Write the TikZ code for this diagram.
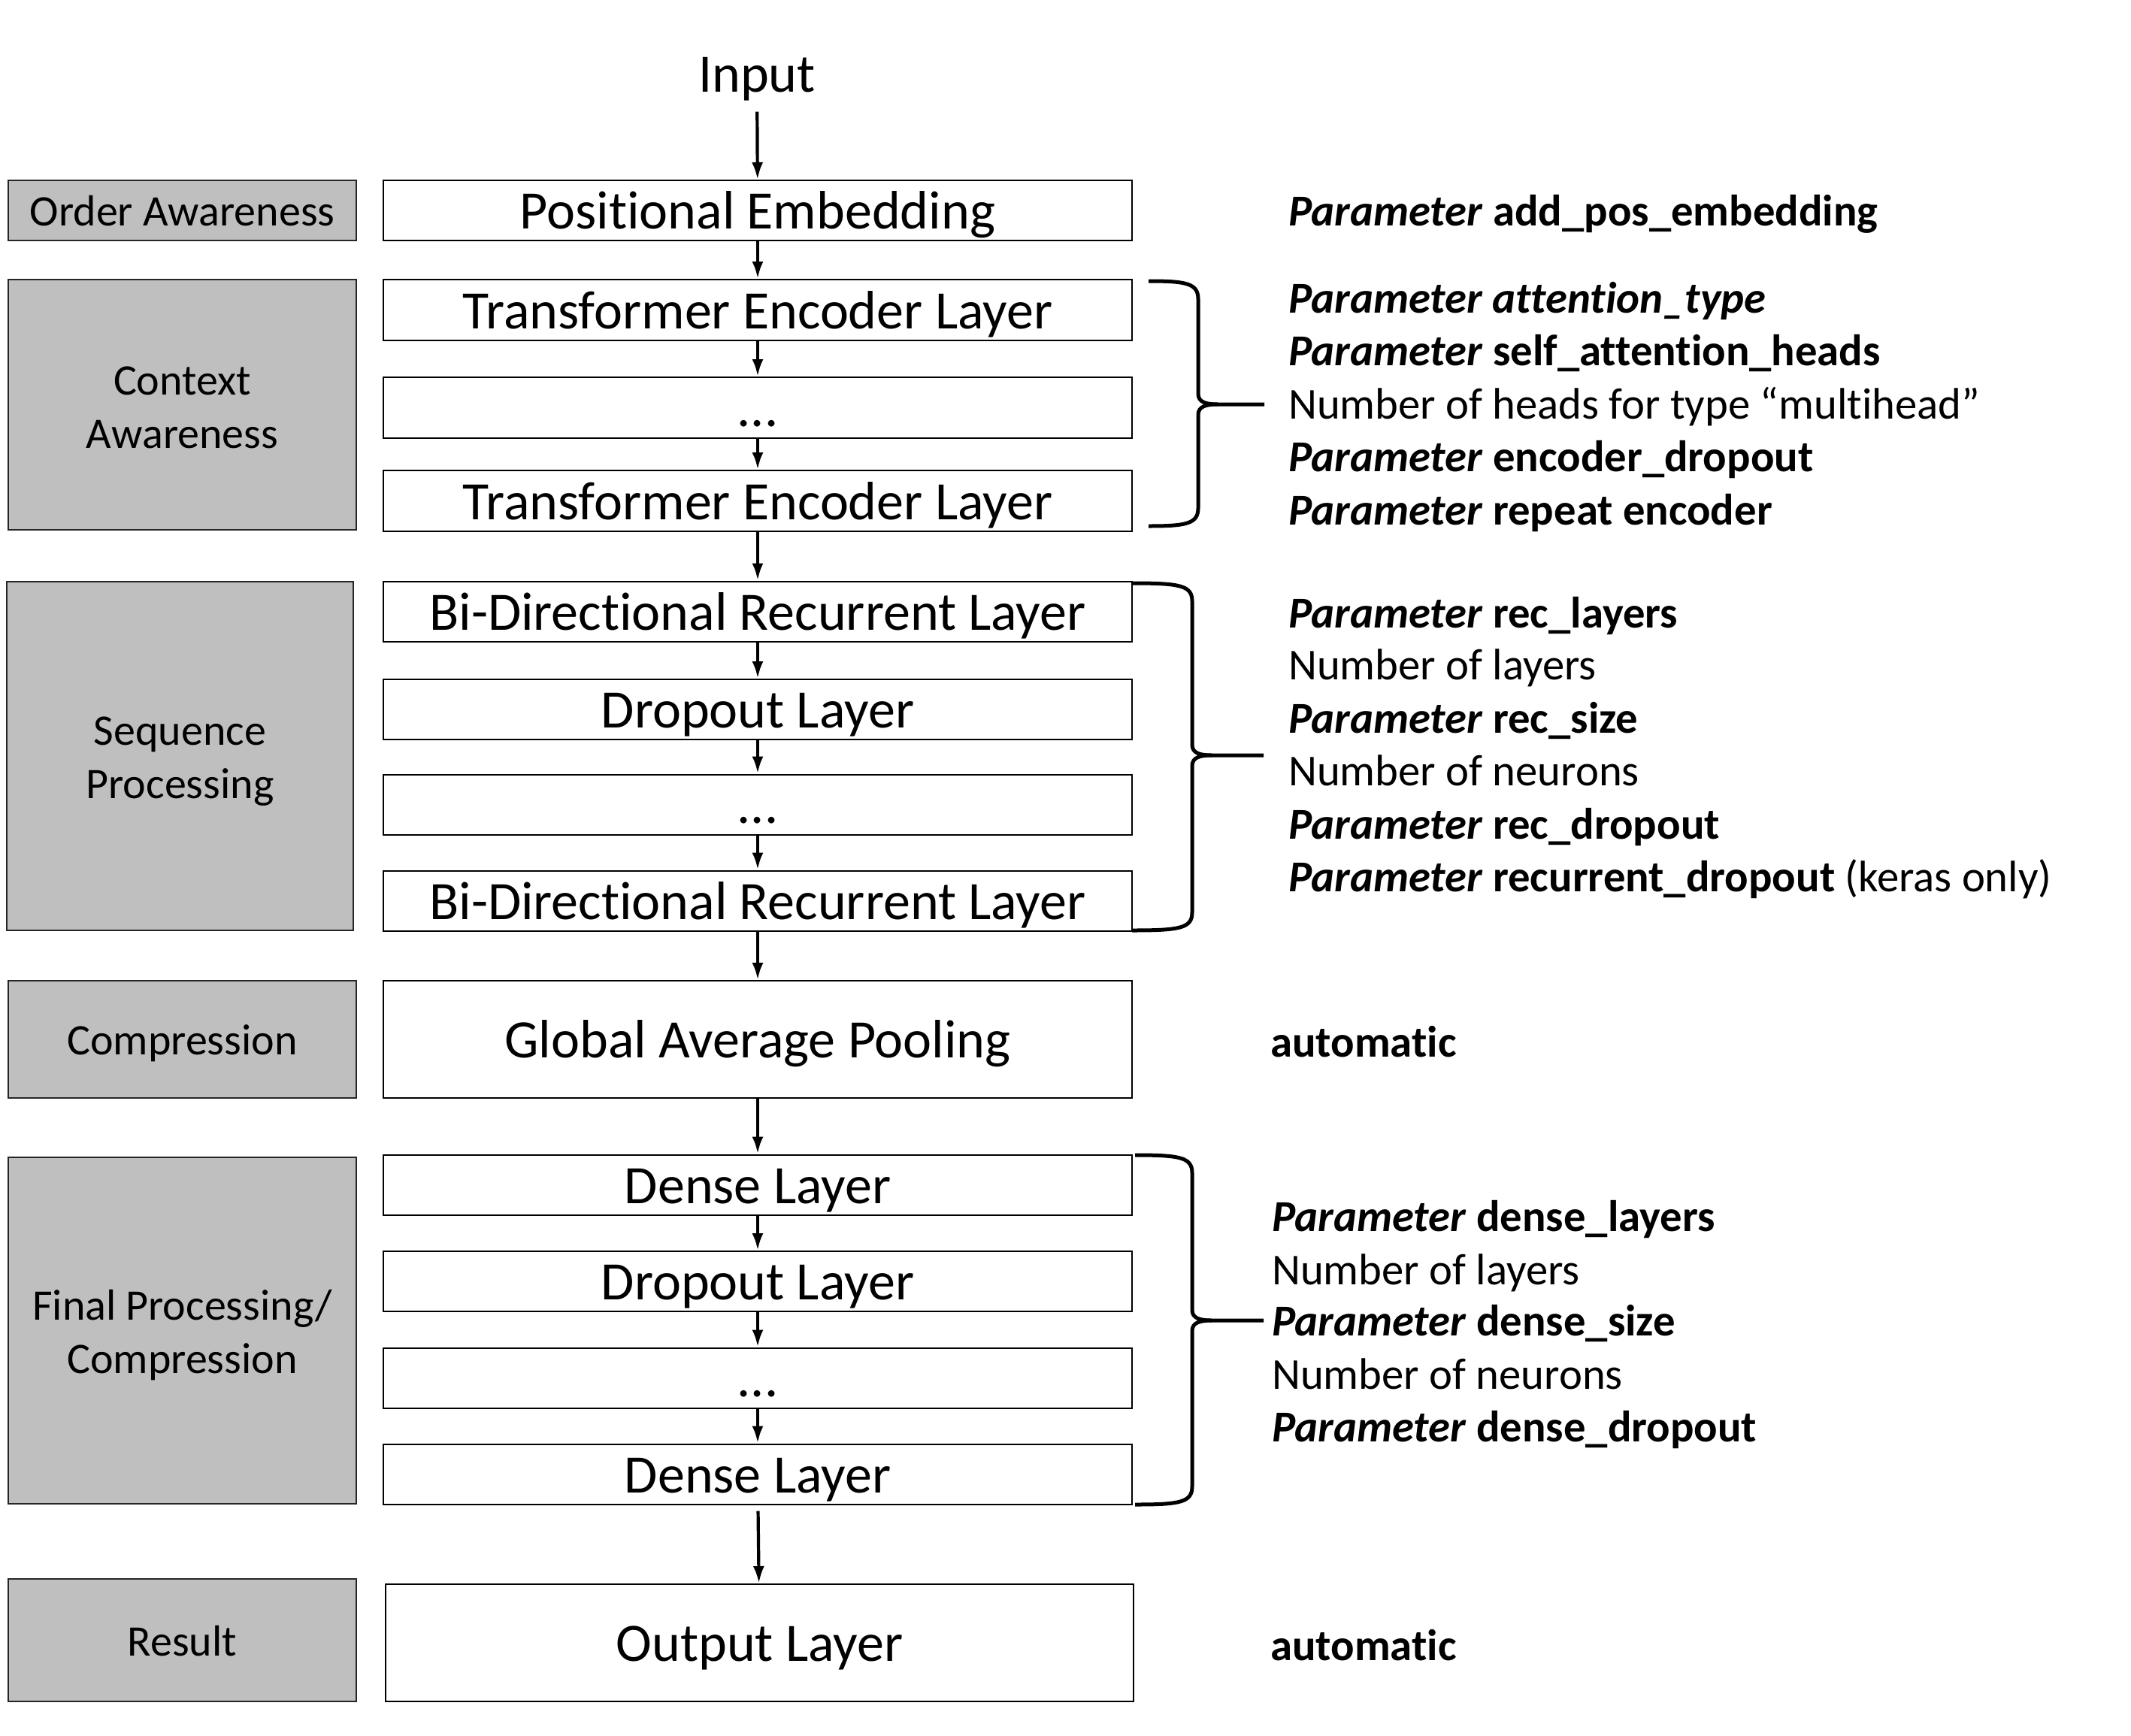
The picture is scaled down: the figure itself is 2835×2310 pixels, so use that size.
\documentclass[tikz,border=0pt]{standalone}
\usepackage{fontspec}
\setmainfont{Carlito}[Ligatures=NoCommon]
\usetikzlibrary{arrows.meta}
\definecolor{sidegray}{RGB}{191,191,191}
\newcommand\mybrace[6]{%
  \draw[bracestroke] (#1,#4) .. controls (#2-16,#4) and (#2,#4+3) .. (#2,#4+24) -- (#2,#6-14)
     .. controls (#2,#6-3) and (#2+10,#6) .. (#2+26,#6) -- (#3,#6);
  \draw[bracestroke] (#1,#5) .. controls (#2-16,#5) and (#2,#5-3) .. (#2,#5-24) -- (#2,#6+14)
     .. controls (#2,#6+3) and (#2+10,#6) .. (#2+26,#6);
}
\begin{document}
\begin{tikzpicture}[x=1pt,y=-1pt,
  mainbox/.style={draw=black, line width=2pt, fill=white, minimum width=996pt, inner sep=0pt,
    font=\fontsize{72}{86}\selectfont, text height=49pt, text depth=0pt},
  sidebox/.style={draw=black!85, line width=2pt, fill=sidegray, inner sep=0pt, minimum width=463pt,
    font=\fontsize{58}{70.5}\selectfont, align=center},
  sideone/.style={sidebox, text height=41pt, text depth=0pt},
  sidetext/.style={inner sep=0pt, font=\fontsize{58}{70.5}\selectfont, align=center},
  param/.style={anchor=base west, inner sep=0pt, font=\fontsize{58.7}{70}\selectfont},
  flow/.style={-{Latex[length=23pt,width=15pt]}, line width=4.2pt},
  bracestroke/.style={line width=5pt}]
\useasboundingbox (0,0) rectangle (2835,2310);

% input
\node[inner sep=0pt, font=\fontsize{72}{86}\selectfont, text height=47pt, text depth=0pt] (input) at (1007,99) {Input};

% main column
\node[mainbox, minimum height=80pt] (pe) at (1008,280) {Positional Embedding};
\node[mainbox, minimum height=81pt] (tel1) at (1008,412.5) {Transformer Encoder Layer};
\node[mainbox, minimum height=81pt] (teld) at (1008,542.5) {...};
\node[mainbox, minimum height=81pt] (tel2) at (1008,666.5) {Transformer Encoder Layer};
\node[mainbox, minimum height=80pt] (bd1) at (1008,813.5) {Bi-Directional Recurrent Layer};
\node[mainbox, minimum height=80pt] (drop1) at (1008,944) {Dropout Layer};
\node[mainbox, minimum height=80pt] (recd) at (1008,1070.5) {...};
\node[mainbox, minimum height=80pt] (bd2) at (1008,1198.5) {Bi-Directional Recurrent Layer};
\node[mainbox, minimum height=156pt] (gap) at (1008,1383) {Global Average Pooling};
\node[mainbox, minimum height=80pt] (de1) at (1008,1576.5) {Dense Layer};
\node[mainbox, minimum height=80pt] (drop2) at (1008,1705) {Dropout Layer};
\node[mainbox, minimum height=80pt] (dend) at (1008,1833.5) {...};
\node[mainbox, minimum height=80pt] (de2) at (1008,1961.5) {Dense Layer};
\node[mainbox, minimum height=156pt, minimum width=995pt] (out) at (1010.5,2186) {Output Layer};

% side column
\node[sideone, minimum height=80pt] (oa) at (242.5,280) {Order Awareness};
\node[sidebox, minimum height=333pt] (ca) at (242.5,538.5) {};
\node[sidetext] (catext) at (242.5,542.5) {Context\\Awareness};
\node[sidebox, minimum height=464pt, minimum width=461pt] (sp) at (239.5,1006) {};
\node[sidetext] (sptext) at (239.5,1013) {Sequence\\Processing};
\node[sideone, minimum height=156pt] (co) at (242.5,1383) {Compression};
\node[sidebox, minimum height=461pt] (fp) at (242.5,1770.5) {};
\node[sidetext] (fptext) at (242.5,1776.5) {Final Processing/\\Compression};
\node[sideone, minimum height=163pt] (re) at (242.5,2182.5) {Result};

% arrows
\draw[flow, shorten <=26pt] (input) -- (pe);
\draw[flow] (pe) -- (tel1);
\draw[flow] (tel1) -- (teld);
\draw[flow] (teld) -- (tel2);
\draw[flow] (tel2) -- (bd1);
\draw[flow] (bd1) -- (drop1);
\draw[flow] (drop1) -- (recd);
\draw[flow] (recd) -- (bd2);
\draw[flow] (bd2) -- (gap);
\draw[flow] (gap) -- (de1);
\draw[flow] (de1) -- (drop2);
\draw[flow] (drop2) -- (dend);
\draw[flow] (dend) -- (de2);
\draw[flow, shorten <=8pt] (de2) -- (out);

% braces
\mybrace{1528}{1594}{1682}{374}{700}{538}
\mybrace{1506}{1586}{1681}{776}{1238}{1005}
\mybrace{1510}{1586}{1681}{1537}{2002}{1757}

% parameter texts
\node[param] (p0) at (1714,300) {\textbf{\textit{Parameter} add\_pos\_embedding}};

\node[param] (p1) at (1714,416) {\textbf{\textit{Parameter attention\_type}}};
\node[param] (p2) at (1714,486) {\textbf{\textit{Parameter} self\_attention\_heads}};
\node[param] (p3) at (1714,557) {Number of heads for type “multihead”};
\node[param] (p4) at (1714,627) {\textbf{\textit{Parameter} encoder\_dropout}};
\node[param] (p5) at (1714,698) {\textbf{\textit{Parameter} repeat encoder}};

\node[param] (r1) at (1714,835) {\textbf{\textit{Parameter} rec\_layers}};
\node[param] (r2) at (1714,904) {Number of layers};
\node[param] (r3) at (1714,975) {\textbf{\textit{Parameter} rec\_size}};
\node[param] (r4) at (1714,1045) {Number of neurons};
\node[param] (r5) at (1714,1116) {\textbf{\textit{Parameter} rec\_dropout}};
\node[param] (r6) at (1714,1186) {\textbf{\textit{Parameter} recurrent\_dropout} (keras only)};

\node[param] (a1) at (1690,1406) {\textbf{automatic}};

\node[param] (d1) at (1692,1638) {\textbf{\textit{Parameter} dense\_layers}};
\node[param] (d2) at (1692,1709) {Number of layers};
\node[param] (d3) at (1692,1777) {\textbf{\textit{Parameter} dense\_size}};
\node[param] (d4) at (1692,1848) {Number of neurons};
\node[param] (d5) at (1692,1918) {\textbf{\textit{Parameter} dense\_dropout}};

\node[param] (a2) at (1690,2209) {\textbf{automatic}};
\end{tikzpicture}
\end{document}
